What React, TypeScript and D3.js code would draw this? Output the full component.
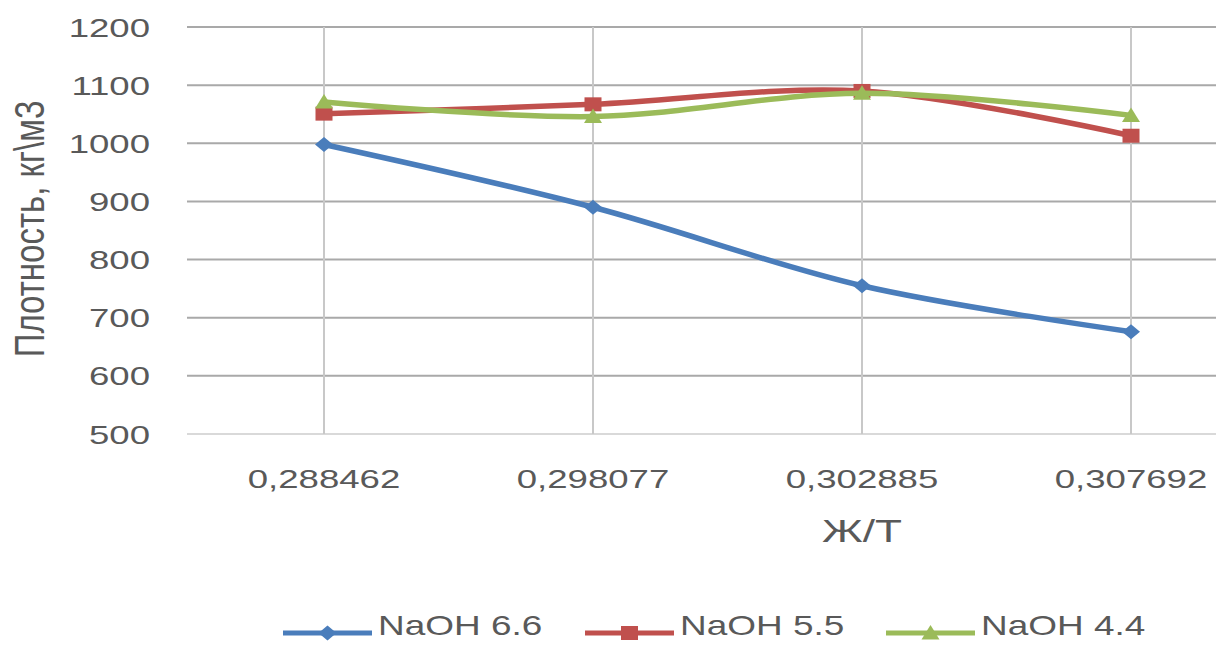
import React from "react";
import * as d3 from "d3";

// Ж/Т ratio categories and density series (кг/м3)
const categories: string[] = ["0,288462", "0,298077", "0,302885", "0,307692"];
const naoh66: number[] = [998, 890, 755, 676];
const naoh55: number[] = [1051, 1067, 1090, 1013];
const naoh44: number[] = [1071, 1046, 1086, 1048];
const yTicks: number[] = [500, 600, 700, 800, 900, 1000, 1100, 1200];
const seriesNames: string[] = ["NaOH 6.6", "NaOH 5.5", "NaOH 4.4"];
const seriesColors: string[] = ["#4a7dbb", "#c0504d", "#9bbb59"];
const seriesMarkers: string[] = ["diamond", "square", "triangle"];

const W = 1216;
const H = 646;
const SX = 1.38; // wide text
const TEXT = "#595959";
const FONT = "'Liberation Sans', Arial, sans-serif";

function Marker({ kind, x, y, color }: { kind: string; x: number; y: number; color: string }) {
  if (kind === "square") {
    return <rect x={x - 8.5} y={y - 7} width={17} height={14} fill={color} />;
  }
  if (kind === "triangle") {
    return <path d={`M${x},${y - 8}L${x + 9},${y + 6.5}L${x - 9},${y + 6.5}Z`} fill={color} />;
  }
  return <path d={`M${x},${y - 7.5}L${x + 9},${y}L${x},${y + 7.5}L${x - 9},${y}Z`} fill={color} />;
}

export default function App() {
  const plotLeft = 187;
  const x = d3.scaleBand<string>().domain(categories).range([189.5, 1265.5]);
  const cx = (c: string) => (x(c) as number) + x.bandwidth() / 2;
  const y = d3.scaleLinear().domain([500, 1200]).range([434, 27]);

  const series = [naoh66, naoh55, naoh44];
  const line = d3
    .line<number>()
    .x((_, i) => cx(categories[i]))
    .y((d) => y(d))
    .curve(d3.curveCatmullRom.alpha(0.5));

  const legendX = [283, 585, 886];
  const legendY = 633;

  return (
    <svg
      width={W}
      height={H}
      style={{ position: "absolute", left: 0, top: 0, background: "#fff" }}
      fontFamily={FONT}
    >
      {/* horizontal gridlines */}
      {yTicks.map((t) => (
        <line
          key={"h" + t}
          x1={plotLeft}
          x2={W}
          y1={y(t)}
          y2={y(t)}
          stroke={t === 500 ? "#d9d9d9" : "#a9a9a9"}
          strokeWidth={2}
        />
      ))}
      {/* vertical gridlines */}
      {categories.map((c) => (
        <line key={"v" + c} x1={cx(c)} x2={cx(c)} y1={y(1200)} y2={y(500)} stroke="#c8c8c8" strokeWidth={2} />
      ))}
      {/* y tick labels */}
      {yTicks.map((t) => (
        <text
          key={"yl" + t}
          transform={`translate(150,${y(t) + 9.5}) scale(${SX},1)`}
          textAnchor="end"
          fontSize={26.5}
          fill={TEXT}
        >
          {t}
        </text>
      ))}
      {/* x tick labels */}
      {categories.map((c) => (
        <text
          key={"xl" + c}
          transform={`translate(${cx(c)},488) scale(${SX},1)`}
          textAnchor="middle"
          fontSize={26.5}
          fill={TEXT}
        >
          {c}
        </text>
      ))}
      {/* axis titles */}
      <text transform={`translate(862,542) scale(${SX},1)`} textAnchor="middle" fontSize={32} fill={TEXT}>
        Ж/Т
      </text>
      <text
        transform={`translate(44,229) rotate(-90) scale(1,1.3)`}
        textAnchor="middle"
        fontSize={33}
        fill={TEXT}
      >
        Плотность, кг\м3
      </text>
      {/* series */}
      {series.map((s, si) => (
        <g key={"s" + si}>
          <path d={line(s) || ""} fill="none" stroke={seriesColors[si]} strokeWidth={5.5} strokeLinejoin="round" />
          {s.map((v, i) => (
            <Marker key={i} kind={seriesMarkers[si]} x={cx(categories[i])} y={y(v)} color={seriesColors[si]} />
          ))}
        </g>
      ))}
      {/* legend */}
      {seriesNames.map((n, i) => (
        <g key={"lg" + n}>
          <line
            x1={legendX[i]}
            x2={legendX[i] + 89}
            y1={legendY}
            y2={legendY}
            stroke={seriesColors[i]}
            strokeWidth={5}
          />
          <Marker kind={seriesMarkers[i]} x={legendX[i] + 44.5} y={legendY} color={seriesColors[i]} />
          <text
            transform={`translate(${legendX[i] + 95},635) scale(1.32,1)`}
            fontSize={28}
            fill={TEXT}
          >
            {n}
          </text>
        </g>
      ))}
    </svg>
  );
}
